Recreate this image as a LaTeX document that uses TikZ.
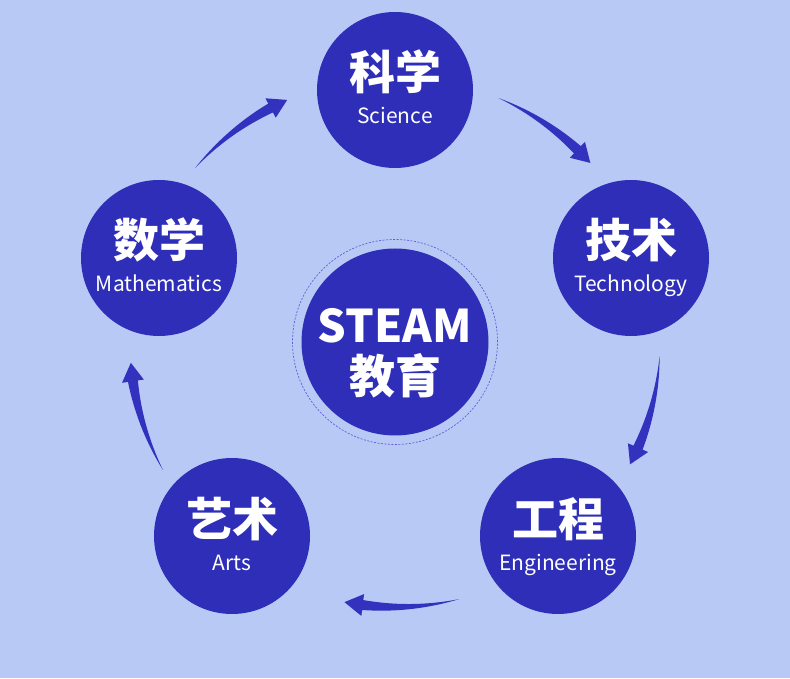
\documentclass[tikz,border=0pt]{standalone}
\usepackage{fontspec}
\setmainfont{Noto Sans CJK SC}
\usepackage{tikz}
\usepackage{xcolor}
\definecolor{bgblue}{RGB}{184,201,245}
\definecolor{discblue}{RGB}{46,46,184}
\definecolor{flowblue}{RGB}{50,50,190}
\definecolor{ringblue}{RGB}{96,96,214}

% tapered arrow on the ring: start angle, tip angle
\newcommand\cyclearrow[2]{%
    \pgfmathsetmacro\neckang{#2+4}
    \fill[flowblue] plot[domain=0:1,samples=40] ({#1+(\neckang-#1)*\x}:{265+5*\x})
        -- (\neckang:276) -- (#2:265) -- (\neckang:254)
        -- plot[domain=1:0,samples=40] ({#1+(\neckang-#1)*\x}:{265-5*\x}) -- cycle;
}

\begin{document}
\begin{tikzpicture}[x=1pt, y=1pt,
    disc/.style={circle, fill=discblue, minimum size=156pt, inner sep=0pt},
    zh/.style={text=white, anchor=base, inner sep=0pt, font=\fontsize{46}{50}\selectfont\bfseries},
    en/.style={text=white, anchor=base, inner sep=0pt, font=\fontsize{21}{24}\selectfont}]
    \fill[bgblue] (0,0) rectangle (790,678);
    \useasboundingbox (0,0) rectangle (790,678);

    \node[circle, fill=discblue, minimum size=187pt, inner sep=0pt] (steam) at (395,336) {};
    \draw[ringblue, line width=0.7pt, dash pattern=on 2pt off 1.5pt] (steam.center) circle (102.5pt);
    \node[text=white, anchor=base, inner sep=0pt, font=\fontsize{45}{50}\selectfont\bfseries] at ([yshift=-1]steam.center) {STEAM};
    \node[zh] at ([yshift=-52]steam.center) {教育};

    \node[disc] (sci) at (395,588) {};
    \node[disc] (tech) at (631,420) {};
    \node[disc] (eng) at (558,142) {};
    \node[disc] (arts) at (232,142) {};
    \node[disc] (math) at (159,420) {};

    \node[zh] at (sci.center) {科学};
    \node[en] at ([yshift=-34]sci.center) {Science};
    \node[zh] at (tech.center) {技术};
    \node[en] at ([yshift=-34]tech.center) {Technology};
    \node[zh] at (eng.center) {工程};
    \node[en] at ([yshift=-34]eng.center) {Engineering};
    \node[zh] at (arts.center) {艺术};
    \node[en] at ([yshift=-34]arts.center) {Arts};
    \node[zh] at (math.center) {数学};
    \node[en] at ([yshift=-34]math.center) {Mathematics};

    \begin{scope}[shift={(steam.center)}]
        \cyclearrow{67}{42.5}
        \cyclearrow{-3}{-27.5}
        \cyclearrow{-76}{-101}
        \cyclearrow{-151}{-175.5}
        \cyclearrow{139}{114}
    \end{scope}
\end{tikzpicture}
\end{document}
